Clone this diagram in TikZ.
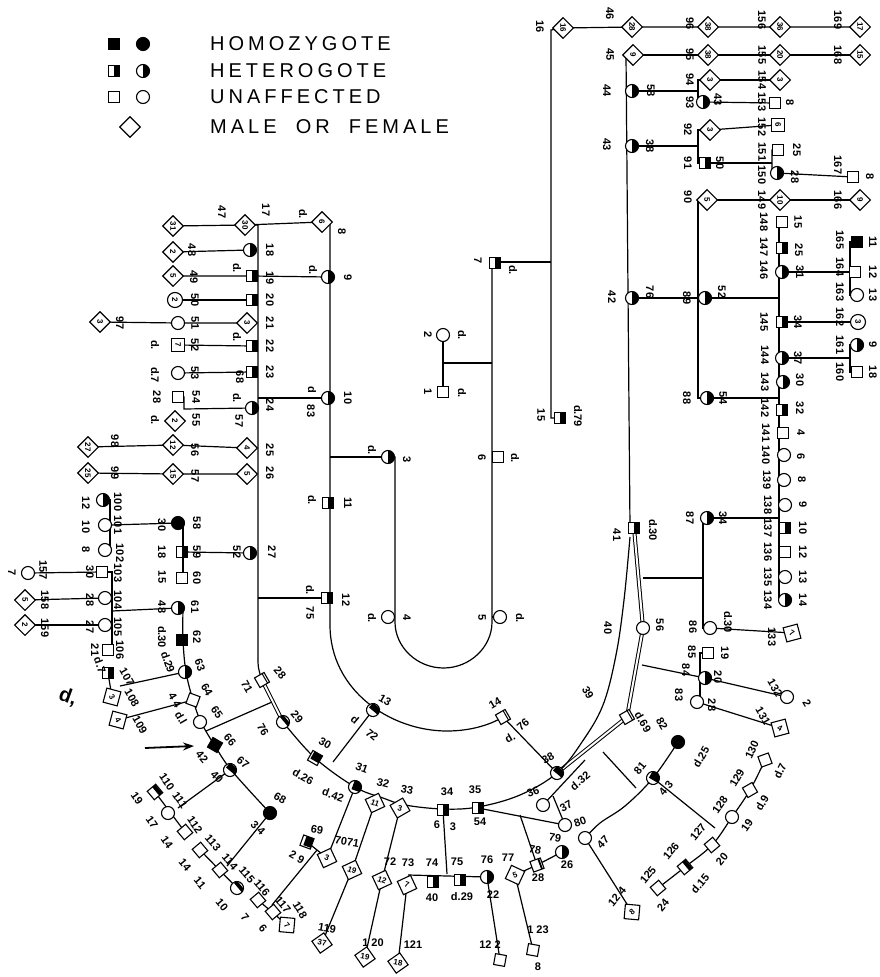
\documentclass[tikz,border=0pt]{standalone}
\usepackage{fontspec}
\setmainfont{Liberation Sans}
\newfontfamily\legfont[LetterSpace=20]{Liberation Sans}
\usetikzlibrary{shapes.geometric,arrows.meta}
\pgfdeclarelayer{paper}
\pgfdeclarelayer{lines}
\pgfsetlayers{paper,lines,main}
\newcounter{lbc}
\newcommand{\plab}[4][0]{\stepcounter{lbc}\node[lab,rotate=#1] (t\arabic{lbc}) at (#2,#3) {#4};}
\newcommand{\pL}[3]{\plab[-90]{#1}{#2}{#3}}
\tikzset{
 ln/.style={line width=1.2pt},
 dbl/.style={line width=1pt, double, double distance=2pt},
 sym/.style={draw, line width=1.1pt, fill=white, inner sep=0pt, font=\bfseries\fontsize{8}{8}\selectfont},
 sq/.style={sym, rectangle, minimum size=11pt},
 hsq/.style={sq, fill=black},
 halfblack/.style={path picture={\fill[black] (path picture bounding box.north) rectangle (path picture bounding box.south east);}},
 tsq/.style={sq, halfblack},
 ci/.style={sym, circle, minimum size=13pt},
 hci/.style={ci, fill=black},
 tci/.style={ci, halfblack},
 dia/.style={sym, diamond, minimum size=21pt},
 rr/.style={rotate=-90},
 lab/.style={font=\bfseries\fontsize{11}{11}\selectfont, inner sep=0pt},
 leg/.style={font=\legfont\fontsize{20}{20}\selectfont, anchor=west, inner sep=0pt},
}
\begin{document}
\begin{tikzpicture}[x=1pt,y=-1pt]
\begin{pgfonlayer}{paper}
\fill[white] (0,0) rectangle (880,977);
\end{pgfonlayer}
\useasboundingbox (0,0) rectangle (880,977);

% ---------- legend ----------
\node[hsq] (Lhom1) at (114,44) {};
\node[hci] (Lhom2) at (143,44) {};
\node[tsq] (Lhet1) at (114,71) {};
\node[tci] (Lhet2) at (143,71) {};
\node[sq] (Lun1) at (114,97) {};
\node[ci] (Lun2) at (143,97) {};
\node[dia] (Ldia) at (130,127) {};
\node[leg] (Lt1) at (210,44) {HOMOZYGOTE};
\node[leg] (Lt2) at (210,71) {HETEROGOTE};
\node[leg] (Lt3) at (210,97) {UNAFFECTED};
\node[leg] (Lt4) at (210,127) {MALE\ \ OR\ \ FEMALE};

% ---------- upper left block ----------
\node[dia,rr] (n47) at (173,226) {31};
\node[dia,rr] (n17) at (245,225) {30};
\node[dia,rr] (n8) at (322,222) {6};
\node[dia,rr] (n48) at (173,252) {2};
\node[tci,rr] (n18) at (250,250) {};
\node[dia,rr] (n49) at (173,276) {5};
\node[tsq,rr] (n19) at (252,276) {};
\node[ci,rr,minimum size=15pt] (n50) at (175,300) {2};
\node[tsq,rr] (n20) at (252,300) {};
\node[dia,rr] (n97) at (100,322) {3};
\node[ci] (n51) at (178,323) {};
\node[dia,rr] (n21) at (247,323) {3};
\node[sq,rr,minimum size=13pt] (n52) at (178,345) {7};
\node[tsq,rr] (n22) at (252,346) {};
\node[ci] (n53) at (178,373) {};
\node[tsq,rr] (n23) at (252,372) {};
\node[sq] (n54) at (178,397) {};
\node[dia,rr] (n55) at (175,421) {2};
\node[tci,rr] (n24) at (252,408) {};
\node[dia,rr] (n98) at (88,447) {27};
\node[dia,rr] (n56) at (173,445) {12};
\node[dia,rr] (n25) at (247,448) {4};
\node[dia,rr] (n99) at (88,473) {25};
\node[dia,rr] (n57) at (173,474) {15};
\node[dia,rr] (n26) at (247,474) {5};

% x=330 line and inner loop
\node[tci,rr] (n9) at (328,277) {};
\node[tci,rr] (n10) at (328,398) {};
\node[tsq,rr] (n11) at (328,503) {};
\node[tsq,rr] (n12) at (327,598) {};
\node[tci,rr] (n3) at (388,457) {};
\node[ci] (n4) at (388,617) {};
\node[ci] (n5) at (500,617) {};
\node[sq] (n6) at (498,457) {};
\node[tsq,rr] (n7) at (495,263) {};
\node[ci] (n2) at (443,335) {};
\node[sq] (n1) at (443,392) {};
\node[tsq,rr] (n15) at (560,418) {};
\node[dia,rr] (n16) at (563,28) {16};

% ---------- right block ----------
\node[dia,rr] (n46) at (632,27) {28};
\node[dia,rr] (n96) at (708,27) {38};
\node[dia,rr] (n156) at (780,27) {36};
\node[dia,rr] (n169) at (860,27) {17};
\node[dia,rr] (n45) at (633,55) {9};
\node[dia,rr] (n95) at (708,55) {38};
\node[dia,rr] (n155) at (780,55) {20};
\node[dia,rr] (n168) at (860,55) {15};
\node[tci,rr] (n44) at (632,91) {};
\node[dia,rr] (n94) at (710,80) {3};
\node[dia,rr] (n154) at (780,80) {3};
\node[tci,rr] (n93) at (703,102) {};
\node[sq] (n153) at (775,103) {};
\node[tci,rr] (n43) at (632,146) {};
\node[dia,rr] (n92) at (710,130) {3};
\node[sq,rr,minimum size=13pt] (n152) at (778,125) {6};
\node[tsq,rr] (n91) at (705,163) {};
\node[sq] (n151) at (778,150) {};
\node[tci,rr] (n150) at (777,173) {};
\node[sq] (n167) at (853,177) {};
\node[dia,rr] (n90) at (707,200) {5};
\node[dia,rr] (n149) at (780,200) {10};
\node[dia,rr] (n166) at (860,200) {9};
\node[sq] (n148) at (782,222) {};
\node[tsq,rr] (n147) at (782,248) {};
\node[tci,rr] (n146) at (782,272) {};
\node[hsq] (n165) at (857,242) {};
\node[sq] (n164) at (855,272) {};
\node[ci] (n163) at (857,295) {};
\node[tci,rr] (n42) at (632,298) {};
\node[tci,rr] (n89) at (705,298) {};
\node[tsq,rr] (n145) at (782,322) {};
\node[ci,rr,minimum size=15pt] (n162) at (858,322) {3};
\node[tci,rr] (n144) at (782,358) {};
\node[tci,rr] (n161) at (857,345) {};
\node[sq] (n160) at (857,372) {};
\node[tci,rr] (n143) at (783,382) {};
\node[tsq,rr] (n142) at (782,410) {};
\node[tci,rr] (n88) at (707,398) {};
\node[sq] (n141) at (783,433) {};
\node[ci] (n140) at (784,455) {};
\node[ci] (n139) at (784,480) {};
\node[ci] (n138) at (785,505) {};
\node[tsq,rr] (n137) at (785,528) {};
\node[sq] (n136) at (785,552) {};
\node[ci] (n135) at (785,577) {};
\node[tci,rr] (n134) at (785,600) {};
\node[tci,rr] (n87) at (707,518) {};
\node[ci] (n86) at (710,628) {};
\node[dia,rotate=-30] (n133) at (792,633) {7};
\node[tsq,rr] (n41) at (634,528) {};
\node[ci] (n56r) at (643,628) {};
\node[tsq,rotate=-60] (n39) at (627,717) {};
\node[sq] (n85) at (708,653) {};
\node[tci] (n84) at (705,678) {};
\node[ci] (n83) at (697,702) {};
\node[ci] (n132) at (787,697) {};
\node[dia,rotate=-30] (n131) at (780,728) {4};

% ---------- bottom right ----------
\node[hci] (n82) at (678,742) {};
\node[tci,rotate=-30] (n81) at (653,778) {};
\node[ci] (n80) at (585,838) {};
\node[dia,rotate=40] (n124) at (632,912) {8};
\node[sq,rotate=40] (n125) at (658,888) {};
\node[tsq,rotate=40] (n126) at (685,867) {};
\node[sq,rotate=40] (n127) at (712,845) {};
\node[ci] (n128) at (732,817) {};
\node[sq,rotate=30] (n129) at (750,790) {};
\node[sq,rotate=20] (n130) at (765,760) {};

% ---------- bottom centre ----------
\node[tci,rotate=-40] (n38) at (557,773) {};
\node[tsq,rotate=-60] (n14) at (503,717) {};
\node[tci,rotate=-40] (n13) at (373,710) {};
\node[tsq,rotate=-60] (n28) at (262,680) {};
\node[tci,rotate=-50] (n29) at (283,722) {};
\node[tsq,rotate=-30] (n30) at (315,758) {};
\node[tci,rotate=-20] (n31) at (355,787) {};
\node[dia,rotate=-20] (n32) at (375,803) {11};
\node[dia,rotate=-15] (n33) at (400,808) {3};
\node[tsq] (n34) at (443,810) {};
\node[tsq] (n35) at (478,808) {};
\node[ci] (n36) at (543,805) {};
\node[ci] (n37) at (565,825) {};
\node[tsq,rotate=-20] (n69) at (307,842) {};
\node[dia,rotate=-20] (n70) at (327,858) {3};
\node[dia,rotate=-20] (n71) at (352,870) {19};
\node[dia,rotate=-20] (n72) at (382,880) {12};
\node[dia,rotate=-20] (n73) at (407,885) {7};
\node[tsq] (n74) at (433,882) {};
\node[tsq] (n75) at (460,880) {};
\node[tci] (n76) at (487,877) {};
\node[dia,rotate=20] (n77) at (515,875) {5};
\node[tsq,rotate=20] (n78) at (537,865) {};
\node[tci] (n79) at (562,852) {};
\node[dia,rotate=-10] (n119) at (322,943) {37};
\node[dia,rotate=-10] (n120) at (365,957) {19};
\node[dia,rotate=-10] (n121) at (398,963) {18};
\node[sq,rotate=-10] (n122) at (500,960) {};
\node[sq,rotate=-10] (n123) at (533,950) {};

% ---------- left lower block ----------
\node[tci,rr] (n27) at (250,553) {};
\node[hci] (n58) at (178,523) {};
\node[tsq,rr] (n59) at (182,552) {};
\node[sq] (n60) at (182,578) {};
\node[tci,rr] (n100) at (103,500) {};
\node[ci] (n101) at (105,525) {};
\node[ci] (n102) at (105,550) {};
\node[tci,rr] (n61) at (178,608) {};
\node[hsq] (n62) at (182,640) {};
\node[tci,rr] (n63) at (185,672) {};
\node[sq,rotate=-20] (n64) at (193,700) {};
\node[ci] (n65) at (200,722) {};
\node[hsq,rotate=-30] (n66) at (215,745) {};
\node[tci,rotate=-40] (n67) at (230,770) {};
\node[hci] (n68) at (270,813) {};
\node[sq] (n103) at (102,572) {};
\node[ci] (n104) at (105,598) {};
\node[ci] (n105) at (105,625) {};
\node[sq] (n106) at (108,650) {};
\node[ci] (n157) at (28,573) {};
\node[dia,rr] (n158) at (25,600) {5};
\node[dia,rr] (n159) at (25,625) {2};
\node[tsq,rr] (n107) at (108,673) {};
\node[dia,rotate=-60] (n108) at (112,697) {3};
\node[dia,rotate=-60] (n109) at (118,720) {4};
\node[tsq,rotate=-50] (n110) at (155,792) {};
\node[ci] (n111) at (168,813) {};
\node[sq,rotate=-50] (n112) at (185,832) {};
\node[sq,rotate=-50] (n113) at (200,850) {};
\node[sq,rotate=-50] (n114) at (220,870) {};
\node[tci,rotate=-50] (n115) at (237,888) {};
\node[sq,rotate=-50] (n116) at (258,900) {};
\node[sq,rotate=-50] (n117) at (273,912) {};
\node[dia,rotate=-50] (n118) at (287,925) {7};
\coordinate (arrowtail) at (145,748);
\coordinate (arrowtip) at (194,746);

% ---------- connectors ----------
\begin{pgfonlayer}{lines}
\draw[ln] (n47.center) -- (n17.center) -- (n8.center);
\draw[ln] (n17.center) -- (258,225) -- (258,655) .. controls (258,668) .. (n28.center);
\draw[ln] (n48.center) -- (n18.center);
\draw[ln] (n49.center) -- (n19.center) -- (n9.center);
\draw[ln] (n50.center) -- (n20.center);
\draw[ln] (n97.center) -- (n51.center) -- (n21.center);
\draw[ln] (n52.center) -- (n22.center);
\draw[ln] (n53.center) -- (n23.center);
\draw[ln] (n54.center) -- (184,397) -- (184,409) -- (n24.center);
\draw[ln] (n98.center) -- (n56.center) -- (n25.center);
\draw[ln] (n99.center) -- (n57.center) -- (n26.center);
\draw[ln] (258,398) -- (n10.center);
\draw[ln] (258,598) -- (n12.center);
\draw[ln] (n8.center) -- (330,222) -- (330,625) .. controls (330,690) and (390,731) .. (447,731) .. controls (470,731) and (490,725) .. (n14.center);
\draw[ln] (330,457) -- (n3.center);
\draw[ln] (n3.center) -- (395,457) -- (395,622) .. controls (395,647) and (417,668) .. (443.5,668) .. controls (470,668) and (492,647) .. (492,622) -- (492,263) -- (n7.center);
\draw[ln] (n4.center) -- (395,617);
\draw[ln] (n5.center) -- (492,617);
\draw[ln] (n6.center) -- (492,457);
\draw[ln] (n2.center) -- (n1.center);
\draw[ln] (443,363) -- (492,363);
\draw[ln] (492,262) -- (551,262);
\draw[ln] (n16.center) -- (551,30) -- (551,418) -- (n15.center);
\draw[ln] (n16.center) -- (n46.center) -- (n96.center) -- (n156.center) -- (n169.center);
\draw[ln] (n45.center) -- (n95.center) -- (n155.center) -- (n168.center);
\draw[ln] (n45.center) -- (626,55) -- (630,528) -- (n41.center);
\draw[ln] (n44.center) -- (698,91);
\draw[ln] (n94.center) -- (698,80) -- (698,102) -- (n93.center);
\draw[ln] (n94.center) -- (n154.center);
\draw[ln] (n93.center) -- (n153.center);
\draw[ln] (n43.center) -- (698,146);
\draw[ln] (n92.center) -- (698,130) -- (698,163) -- (n91.center);
\draw[ln] (n92.center) -- (n152.center);
\draw[ln] (n91.center) -- (772,163);
\draw[ln] (n151.center) -- (772,150) -- (772,175) -- (n150.center);
\draw[ln] (n150.center) -- (n167.center);
\draw[ln] (n90.center) -- (n149.center) -- (n166.center);
\draw[ln] (n90.center) -- (698,200) -- (698,398) -- (n88.center);
\draw[ln] (n42.center) -- (n89.center) -- (779,298);
\draw[ln] (n88.center) -- (779,398);
\draw[ln] (n87.center) -- (779,518);
\draw[ln] (n148.center) -- (779,222) -- (779,600) -- (n134.center);
\draw[ln] (n146.center) -- (n164.center);
\draw[ln] (n165.center) -- (850,242) -- (850,295) -- (n163.center);
\draw[ln] (n145.center) -- (n162.center);
\draw[ln] (n144.center) -- (850,358);
\draw[ln] (n161.center) -- (850,345) -- (850,372) -- (n160.center);
\draw[ln] (n87.center) -- (703,518) -- (703,628) -- (n86.center);
\draw[ln] (n86.center) -- (n133.center);
\draw[ln] (643,578) -- (703,578);
\draw[dbl] (n41.center) -- (n56r.center);
\draw[dbl] (n56r.center) -- (n39.center);
\draw[dbl] (n39.center) -- (n38.center);
\draw[ln] (642,665) -- (n84.center) -- (n132.center);
\draw[ln] (n85.center) -- (700,653) -- (700,702) -- (n83.center);
\draw[ln] (n83.center) -- (n131.center);
% outer arc
\draw[dbl] (n28.center) -- (n29.center);
\draw[ln] plot[smooth,tension=0.6] coordinates {(283,722) (315,758) (355,787) (383,798) (405,805) (443,809) (478,807) (520,795) (557,773) (582,742) (603,705) (616,655) (624,600) (630,537)};
\draw[ln] (n13.center) -- (333,762);
\draw[ln] (n14.center) -- (n38.center);
\draw[ln] (585,760) -- (n36.center);
\draw[ln] (553,796) -- (n37.center);
\draw[ln] (n35.center) -- (n37.center);
\draw[ln] (603,752) -- (636,788);
\draw[ln] plot[smooth,tension=0.6] coordinates {(678,742) (653,778) (625,806) (600,823) (585,838)};
\draw[ln] (n80.center) -- (n124.center);
\draw[ln] (n81.center) -- (715,828);
\draw[ln] plot[smooth,tension=0.6] coordinates {(658,888) (685,867) (712,845) (732,817) (750,790) (765,760)};
% bottom centre
\draw[ln] (n34.center) -- (447,874);
\draw[ln] (408,875) -- (n76.center);
\draw[ln] (n76.center) -- (n122.center);
\draw[ln] (n73.center) -- (n121.center);
\draw[ln] (n33.center) -- (n72.center) -- (n120.center);
\draw[ln] (n32.center) -- (n71.center) -- (n119.center);
\draw[ln] (n31.center) -- (n70.center);
\draw[ln] (n69.center) -- (n70.center);
\draw[ln] (317,850) -- (272,905);
\draw[ln] (n116.center) -- (n118.center);
\draw[ln] (520,815) -- (n78.center);
\draw[ln] (n77.center) -- (n78.center) -- (n79.center);
\draw[ln] (n77.center) -- (n123.center);
% left lower
\draw[ln] (n27.center) -- (183,552);
\draw[ln] (n58.center) -- (183,523) -- (183,578) -- (n60.center);
\draw[ln] (n58.center) -- (110,525);
\draw[ln] (n100.center) -- (110,500) -- (110,550) -- (n102.center);
\draw[ln] (n61.center) -- (112,611);
\draw[ln] (n103.center) -- (112,572) -- (112,650) -- (n106.center);
\draw[ln] (n103.center) -- (n157.center);
\draw[ln] (n104.center) -- (n158.center);
\draw[ln] (n105.center) -- (n159.center);
\draw[ln] plot[smooth,tension=0.6] coordinates {(183,608) (183,640) (186,672) (193,700) (201,722) (215,746) (232,771) (270,813)};
\draw[ln] (206,731) -- (272,702);
\draw[ln] (n107.center) -- (n108.center);
\draw[ln] (n63.center) -- (120,686);
\draw[ln] (n64.center) -- (n109.center);
\draw[ln] (n67.center) -- (178,808);
\draw[ln] (n110.center) -- (n112.center);
\draw[ln] (n68.center) -- (227,866);
\draw[ln] (n113.center) -- (n115.center);
\end{pgfonlayer}
\draw[-{Stealth[length=11pt,width=8pt]}, line width=1.8pt] (arrowtail) -- (arrowtip);

% ---------- labels: upper left ----------
\pL{222}{212}{47} \pL{266}{210}{17} \pL{303}{214}{d.} \pL{342}{232}{8}
\pL{192}{250}{48} \pL{270}{250}{18}
\pL{194}{277}{49} \pL{237}{268}{d.} \pL{270}{278}{19}
\pL{195}{300}{50} \pL{270}{300}{20}
\pL{120}{323}{97} \pL{195}{323}{51} \pL{270}{323}{21}
\pL{155}{345}{d.} \pL{195}{345}{52} \pL{237}{337}{d.} \pL{270}{346}{22}
\pL{155}{375}{d.7} \pL{195}{373}{53} \pL{240}{377}{68} \pL{270}{372}{23}
\pL{157}{397}{28} \pL{196}{397}{54}
\pL{155}{420}{d.} \pL{196}{420}{55} \pL{237}{398}{d.} \pL{239}{421}{57} \pL{270}{405}{24}
\pL{115}{441}{98} \pL{195}{450}{56} \pL{270}{450}{25}
\pL{115}{473}{99} \pL{195}{476}{57} \pL{270}{473}{26}
\pL{348}{278}{9} \pL{313}{270}{d.}
\pL{348}{398}{10} \pL{312}{390}{d} \pL{311}{411}{83}
\pL{348}{503}{11} \pL{312}{500}{d.}
\pL{346}{600}{12} \pL{310}{590}{d.} \pL{310}{613}{75}
\pL{407}{460}{3} \pL{372}{450}{d.}
\pL{428}{335}{2} \pL{462}{335}{d.} \pL{428}{392}{1} \pL{462}{393}{d.}
\pL{478}{261}{7} \pL{513}{270}{d.} \pL{482}{458}{6} \pL{515}{458}{d.}
\pL{482}{618}{5} \pL{520}{618}{d.} \pL{407}{618}{4} \pL{372}{618}{d.}
\pL{541}{415}{15} \pL{578}{416}{d.79} \pL{540}{27}{16}
% ---------- labels: right block ----------
\pL{610}{14}{46} \pL{690}{24}{96} \pL{762}{20}{156} \pL{838}{20}{169}
\pL{610}{55}{45} \pL{690}{55}{95} \pL{762}{55}{155} \pL{838}{55}{168}
\pL{607}{91}{44} \pL{651}{91}{58} \pL{690}{80}{94} \pL{690}{103}{93} \pL{718}{100}{43}
\pL{762}{80}{154} \pL{762}{102}{153} \pL{790}{103}{8}
\pL{607}{145}{43} \pL{650}{146}{38} \pL{688}{130}{92} \pL{762}{127}{152}
\pL{688}{163}{91} \pL{720}{163}{50} \pL{762}{152}{151} \pL{797}{150}{25}
\pL{762}{175}{150} \pL{795}{177}{28} \pL{838}{165}{167} \pL{870}{177}{8}
\pL{688}{197}{90} \pL{762}{200}{149} \pL{838}{200}{166}
\pL{764}{222}{148} \pL{798}{222}{15} \pL{764}{247}{147} \pL{799}{250}{25}
\pL{764}{270}{146} \pL{800}{272}{31}
\pL{840}{240}{165} \pL{873}{242}{11} \pL{840}{267}{164} \pL{873}{272}{12} \pL{840}{292}{163} \pL{873}{295}{13}
\pL{612}{297}{42} \pL{650}{292}{76} \pL{687}{298}{89} \pL{722}{292}{52}
\pL{764}{322}{145} \pL{798}{322}{34} \pL{840}{317}{162}
\pL{765}{355}{144} \pL{798}{358}{37} \pL{840}{345}{161} \pL{873}{345}{9} \pL{840}{372}{160} \pL{873}{372}{18}
\pL{765}{382}{143} \pL{800}{380}{30} \pL{765}{408}{142} \pL{800}{408}{32}
\pL{687}{398}{88} \pL{723}{398}{54}
\pL{766}{433}{141} \pL{801}{433}{4} \pL{766}{455}{140} \pL{801}{457}{6}
\pL{767}{480}{139} \pL{802}{480}{8} \pL{768}{505}{138} \pL{803}{505}{9}
\pL{768}{528}{137} \pL{803}{528}{10} \pL{768}{552}{136} \pL{803}{552}{12}
\pL{768}{577}{135} \pL{803}{577}{13} \pL{768}{600}{134} \pL{803}{600}{14}
\pL{690}{518}{87} \pL{723}{518}{34}
\pL{617}{535}{41} \pL{653}{530}{d.30}
\pL{693}{627}{86} \pL{728}{622}{d.30} \pL{772}{637}{133}
\pL{608}{628}{40} \pL{660}{625}{56}
\pL{692}{652}{85} \pL{725}{653}{19} \pL{686}{670}{84} \pL{718}{677}{20}
\pL{679}{695}{83} \pL{712}{705}{28}
\plab[-60]{775}{688}{132} \plab[-60]{807}{703}{2} \plab[-60]{763}{716}{131}
\plab[-60]{588}{693}{39} \plab[-60]{643}{722}{d.69} \plab[-60]{662}{724}{82}
% ---------- labels: bottom right ----------
\plab[60]{701}{757}{d.25} \plab[50]{640}{768}{81} \plab[50]{666}{788}{4 3}
\plab[45]{603}{842}{47} \plab[50]{617}{897}{12 4}
\plab[50]{648}{875}{125} \plab[50]{663}{905}{24} \plab[50]{671}{851}{126} \plab[50]{700}{884}{d.15}
\plab[50]{698}{832}{127} \plab[50]{722}{859}{20} \plab[55]{720}{805}{128} \plab[55]{747}{825}{19}
\plab[60]{737}{778}{129} \plab[60]{762}{803}{d.9} \plab[65]{752}{750}{130} \plab[65]{780}{771}{d.7}
% ---------- labels: bottom centre ----------
\plab[-30]{325}{743}{30} \plab[-30]{303}{777}{d.26} \plab[-20]{362}{768}{31} \plab[-20]{333}{795}{d.42}
\plab[-15]{383}{783}{32} \plab[-10]{407}{790}{33} \plab{447}{792}{34} \plab{475}{790}{35}
\plab{437}{825}{6} \plab{453}{827}{3} \plab{480}{822}{54}
\plab[20]{533}{792}{36} \plab[30]{566}{806}{37} \plab[40]{580}{781}{d.32} \plab[20]{580}{822}{80}
\plab[30]{548}{758}{38} \plab[30]{510}{738}{d.}
\plab[-30]{385}{700}{13} \plab[-40]{355}{720}{d} \plab[-40]{372}{735}{72}
\plab[30]{495}{703}{14} \plab[40]{523}{725}{76}
\plab[-50]{297}{717}{29} \plab[-50]{280}{673}{28} \plab[-60]{247}{687}{71} \plab[-60]{263}{730}{76}
\plab[-10]{317}{830}{69} \plab[-10]{347}{842}{7071} \plab[-30]{297}{857}{2 9}
\plab{390}{862}{72} \plab{408}{863}{73} \plab{432}{863}{74} \plab{457}{862}{75} \plab{487}{860}{76}
\plab{508}{858}{77} \plab[-10]{535}{850}{78} \plab[-10]{555}{838}{79}
\plab{432}{898}{40} \plab{462}{897}{d.29} \plab{493}{895}{22} \plab{538}{878}{28} \plab{567}{865}{26}
\plab[-10]{327}{928}{119} \plab{373}{943}{1 20} \plab{413}{945}{121} \plab{490}{945}{12 2}
\plab{538}{930}{1 23} \plab{538}{967}{8}
% ---------- labels: left lower ----------
\pL{118}{502}{100} \pL{118}{525}{101} \pL{120}{553}{102}
\pL{86}{503}{12} \pL{86}{527}{10} \pL{86}{550}{8}
\pL{162}{525}{30} \pL{162}{552}{18} \pL{162}{577}{15}
\pL{197}{523}{58} \pL{197}{552}{59} \pL{197}{578}{60}
\pL{272}{552}{27} \pL{237}{552}{52}
\pL{43}{570}{157} \pL{12}{573}{7} \pL{90}{572}{30} \pL{118}{573}{103}
\pL{45}{600}{158} \pL{90}{600}{28} \pL{118}{600}{104}
\pL{45}{628}{159} \pL{90}{627}{27} \pL{118}{627}{105}
\pL{95}{650}{21} \pL{120}{650}{106} \plab[-70]{100}{665}{d.7}
\pL{195}{607}{61} \pL{162}{607}{48} \pL{197}{637}{62} \pL{162}{637}{d.30}
\plab[-70]{168}{662}{d.29} \plab[-70]{200}{665}{63} \plab[-60]{207}{690}{64} \plab[-55]{217}{712}{65}
\plab[-60]{127}{677}{107} \plab[-60]{132}{698}{108} \plab[-60]{140}{725}{109}
\plab[-60]{175}{700}{4 4} \plab[-60]{181}{718}{d.l}
\plab[-20]{68}{697}{\fontsize{20}{20}\selectfont d,}
\plab[-50]{230}{740}{66} \plab[-50]{202}{757}{42} \plab[-40]{243}{763}{67} \plab[-45]{217}{777}{40}
\plab[-30]{280}{798}{68} \plab[-45]{258}{828}{3 4}
\plab[-55]{167}{782}{110} \plab[-55]{180}{800}{111} \plab[-55]{195}{825}{112}
\plab[-55]{137}{798}{19} \plab[-55]{152}{822}{17} \plab[-55]{167}{842}{14}
\plab[-50]{213}{843}{113} \plab[-50]{230}{862}{114} \plab[-50]{247}{875}{115}
\plab[-50]{185}{865}{14} \plab[-50]{200}{883}{11} \plab[-50]{222}{905}{10}
\plab[-50]{262}{888}{116} \plab[-50]{283}{905}{117} \plab[-60]{300}{910}{118}
\plab[-50]{245}{917}{7} \plab[-50]{263}{928}{6}
\end{tikzpicture}
\end{document}
